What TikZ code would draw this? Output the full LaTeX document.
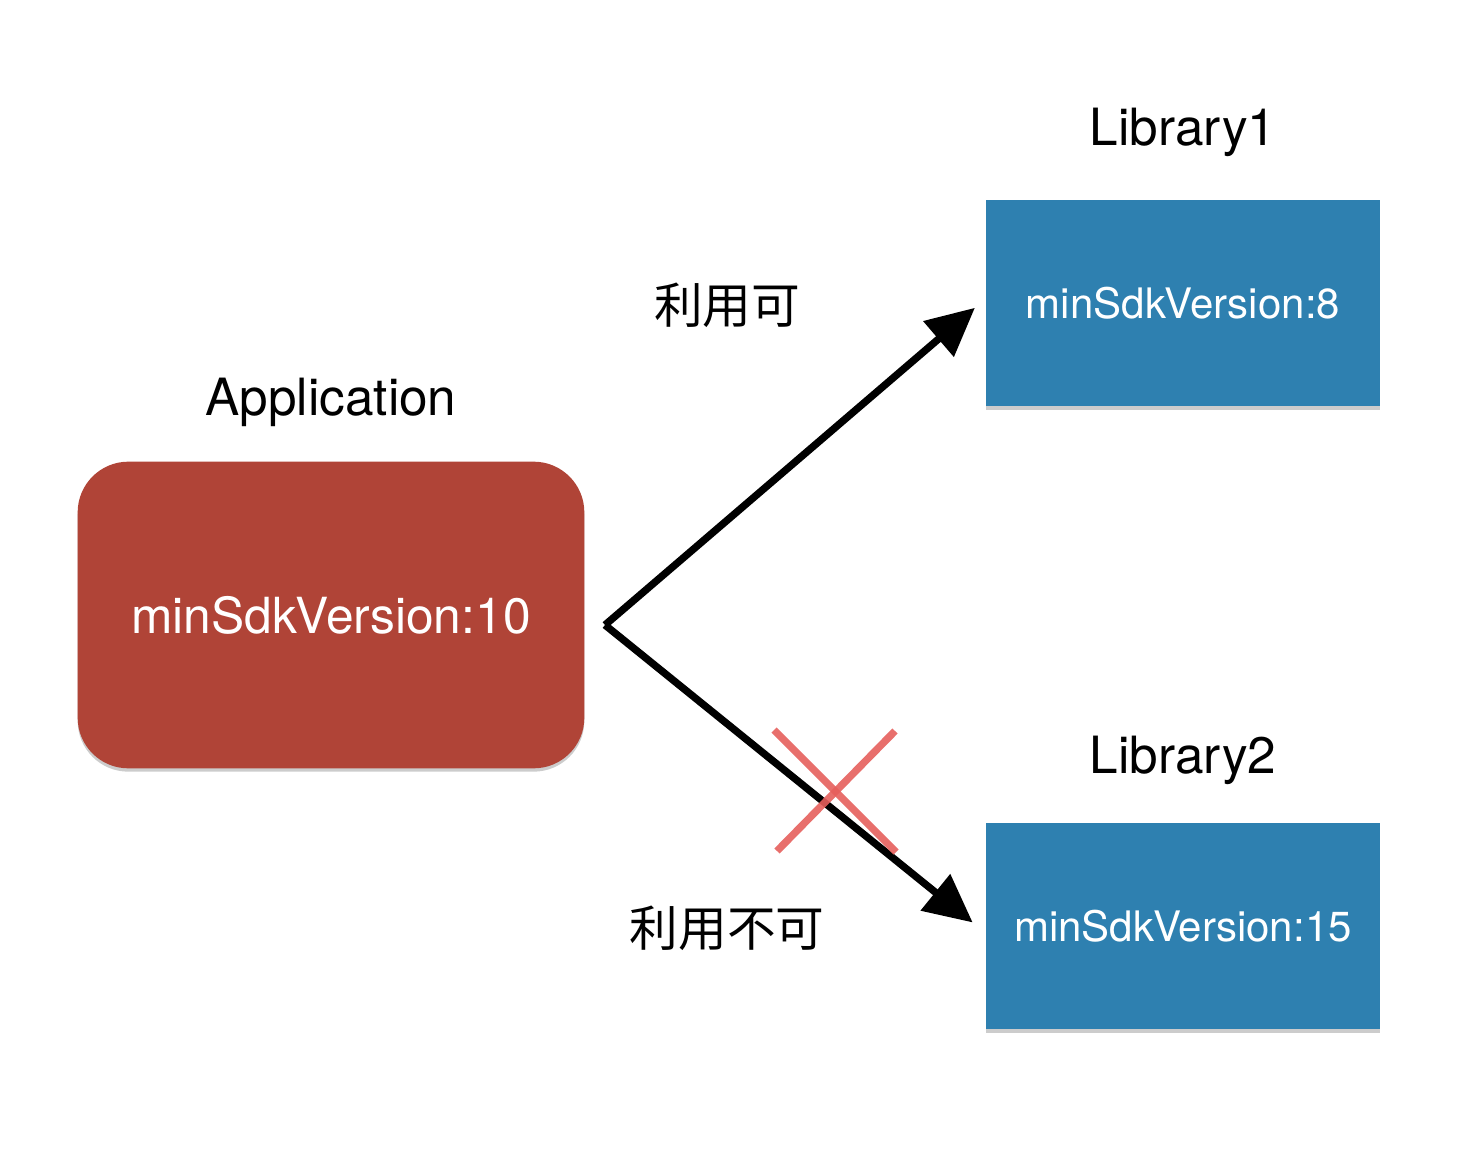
\documentclass[tikz,border=0pt]{standalone}
\usepackage{fontspec}
\setmainfont{TeX Gyre Heros}
\newfontfamily\jpfont{Noto Sans CJK JP}
\usetikzlibrary{arrows.meta,positioning,shadows}

\definecolor{appred}{HTML}{B04437}
\definecolor{libblue}{HTML}{2E80B0}
\definecolor{crossred}{HTML}{E65F5C}

\begin{document}
\begin{tikzpicture}[x=0.75pt,y=-0.75pt,
            box/.style={minimum width=296pt,minimum height=155pt,fill=libblue,text=white,
                        font=\fontsize{31.5}{38}\selectfont,
                        drop shadow={shadow xshift=0pt,shadow yshift=-2.5pt,opacity=.4}},
            appbox/.style={box,fill=appred,minimum width=380pt,minimum height=230pt,
                        rounded corners=38pt,font=\fontsize{37.3}{44}\selectfont},
            title/.style={font=\fontsize{38.5}{44}\selectfont},
            jlab/.style={font=\jpfont\fontsize{36.5}{42}\selectfont},
            uses/.style={draw,line width=5.5pt,line join=round,
                        -{Triangle[length=36pt,width=34pt]},shorten >=9pt},
            cross/.style={draw=crossred,line width=5.5pt,opacity=.9}
          ]
          \useasboundingbox (0,0) rectangle (1468,1170);

          %boxes
          \node[appbox] (app) at (331,615) {minSdkVersion:10};
          \node[box] (lib1) at (1183,303) {minSdkVersion:8};
          \node[box] (lib2) at (1183,926) {minSdkVersion:15};

          %titles
          \node[title] (apptitle) at (331,402) {Application};
          \node[title] (lib1title) at (1183,132) {Library1};
          \node[title] (lib2title) at (1183,760) {Library2};

          %labels
          \node[jlab] (ok) at (727,305) {利用可};
          \node[jlab] (ng) at (727,928) {利用不可};

          %arrows
          \coordinate (fork) at (605,625);
          \coordinate (tip1) at (984,300);
          \coordinate (tip2) at (982,930);
          \path[uses] (fork) -- (tip1);
          \path[uses] (fork) -- (tip2);

          %cross
          \coordinate (c1) at (774,730);
          \coordinate (c2) at (896,852);
          \coordinate (c3) at (895,731);
          \coordinate (c4) at (777,851);
          \path[cross] (c1) -- (c2);
          \path[cross] (c3) -- (c4);
      \end{tikzpicture}
\end{document}
